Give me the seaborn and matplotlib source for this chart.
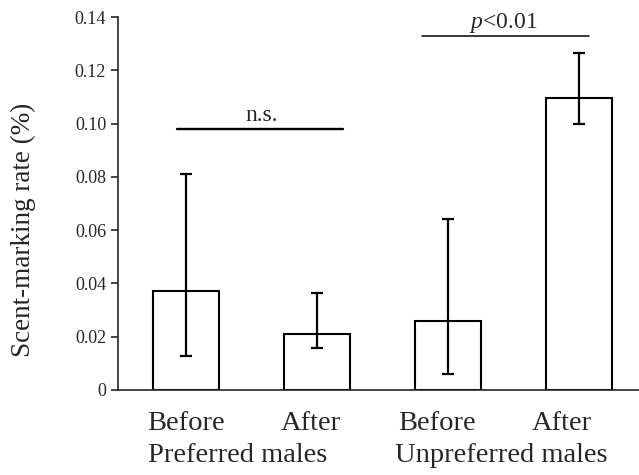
import pandas as pd
import matplotlib.pyplot as plt
import seaborn as sns

# Values
groups = ["Preferred males", "Preferred males", "Unpreferred males", "Unpreferred males"]
periods = ["Before", "After", "Before", "After"]
rate = [0.037, 0.021, 0.026, 0.1095]
err_low = [0.0128, 0.0158, 0.006, 0.100]
err_high = [0.081, 0.0364, 0.0641, 0.1264]

df = pd.DataFrame({"group": groups, "period": periods, "rate": rate,
                   "low": err_low, "high": err_high})
df["key"] = df["group"] + " " + df["period"]

sns.set_style("ticks")
plt.rcParams["font.family"] = ["Liberation Serif", "DejaVu Serif"]
plt.rcParams["mathtext.fontset"] = "custom"
plt.rcParams["mathtext.it"] = "Liberation Serif:italic"
plt.rcParams["mathtext.rm"] = "Liberation Serif"

fig = plt.figure(figsize=(6.39, 4.75), dpi=100)
ax = fig.add_axes([0.1847, 0.179, 0.8153, 0.785])

sns.barplot(data=df, x="key", y="rate", order=list(df["key"]), color="white",
            edgecolor="black", linewidth=1.5, width=0.5, errorbar=None, ax=ax)

# asymmetric error bars
pos = list(range(len(df)))
yerr = [df["rate"] - df["low"], df["high"] - df["rate"]]
ax.errorbar(pos, df["rate"], yerr=yerr, fmt="none", ecolor="black",
            elinewidth=1.6, capsize=4.3, capthick=1.6)

ax.set_xlim(-0.52, 3.46)
ax.set_ylim(0, 0.14)
ax.set_yticks([0, 0.02, 0.04, 0.06, 0.08, 0.10, 0.12, 0.14])
ax.set_yticklabels(["0", "0.02", "0.04", "0.06", "0.08", "0.10", "0.12", "0.14"], fontsize=13)
# labels in the original sit a little left of the bar centres
ax.set_xticks([p - d for p, d in zip(pos, [0.0, 0.05, 0.08, 0.13])])
ax.set_xticklabels(df["period"], fontsize=20.5)
ax.tick_params(axis="x", length=0, pad=15)
ax.tick_params(axis="y", length=5, width=1.2, direction="out")
ax.set_xlabel("")
ax.set_ylabel("Scent-marking rate (%)", fontsize=19.5)
ax.yaxis.set_label_coords(-0.158, 0.43)

for s in ["top", "right"]:
    ax.spines[s].set_visible(False)
ax.spines["left"].set_linewidth(1.2)
ax.spines["bottom"].set_linewidth(1.2)

# group labels under the tick labels
for name, xc in [("Preferred males", 0.39), ("Unpreferred males", 2.41)]:
    ax.text(xc, -0.176, name, transform=ax.get_xaxis_transform(), ha="center",
            va="center", fontsize=20.5)

# significance annotations
ax.plot([-0.07, 1.2], [0.098, 0.098], color="black", lw=1.7, clip_on=False)
ax.text(0.58, 0.0991, "n.s.", ha="center", va="bottom", fontsize=17)
ax.plot([1.8, 3.08], [0.1328, 0.1328], color="black", lw=1.1, clip_on=False)
ax.text(2.42, 0.1332, r"$p$<0.01", ha="center", va="bottom", fontsize=17)

fig.savefig("out.png", dpi=100)
